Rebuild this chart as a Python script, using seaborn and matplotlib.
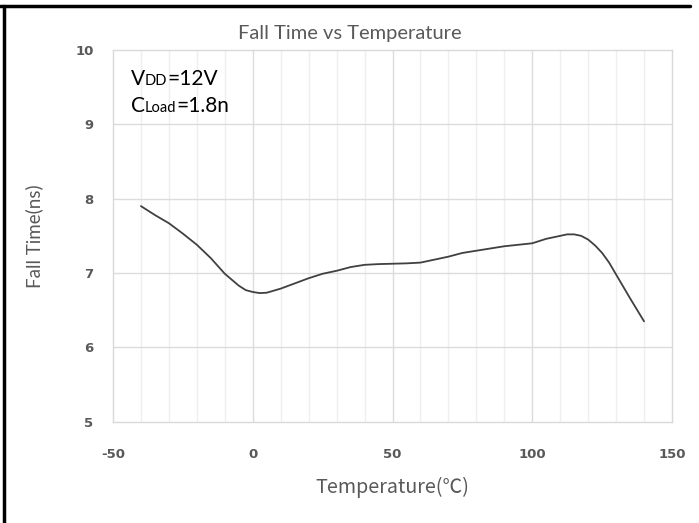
import matplotlib
matplotlib.use("Agg")
import matplotlib.pyplot as plt
import seaborn as sns
import pandas as pd
from matplotlib.lines import Line2D

# Fall time measured across the temperature range
temperature_c = [-40, -35, -30, -25, -20, -15, -10, -5, -2.5, 0, 2.5, 5, 10, 15, 20,
                 25, 30, 35, 40, 45, 50, 55, 60, 65, 70, 75, 80, 85, 90, 95, 100,
                 105, 110, 112.5, 115, 117.5, 120, 122.5, 125, 127.5, 130, 132.5,
                 135, 140]
fall_time_ns = [7.90, 7.78, 7.67, 7.53, 7.38, 7.20, 6.99, 6.83, 6.77, 6.745, 6.73,
                6.735, 6.79, 6.86, 6.93, 6.99, 7.03, 7.08, 7.11, 7.12, 7.125, 7.13,
                7.14, 7.18, 7.22, 7.27, 7.30, 7.33, 7.36, 7.38, 7.40, 7.46, 7.50,
                7.52, 7.52, 7.50, 7.45, 7.37, 7.27, 7.14, 6.98, 6.82, 6.66, 6.35]

x_ticks = [-50, 0, 50, 100, 150]
y_ticks = [5, 6, 7, 8, 9, 10]

df = pd.DataFrame({"Temperature": temperature_c, "FallTime": fall_time_ns})

sns.set_theme(style="white")
plt.rcParams["font.family"] = ["Lato", "Noto Sans CJK SC", "DejaVu Sans"]
plt.rcParams["axes.unicode_minus"] = False

TEXT = "#595959"
fig = plt.figure(figsize=(6.99, 5.23), dpi=100)
ax = fig.add_axes([113 / 699, 1 - 421.7 / 523, (672 - 113) / 699, (421.7 - 50) / 523])

# Light grid: every 10 degrees (minor) and every volt step, darker at the major ticks
for xv in range(-40, 150, 10):
    major = xv % 50 == 0
    ax.axvline(xv, color="#dcdcdc" if major else "#efefef", lw=1.0, zorder=0)
for yv in y_ticks[1:-1]:
    ax.axhline(yv, color="#dcdcdc", lw=1.0, zorder=0)

sns.lineplot(data=df, x="Temperature", y="FallTime", ax=ax, color="#404040",
             linewidth=1.3, zorder=3)

ax.set_xlim(-50, 150)
ax.set_ylim(5, 10)
ax.set_xticks(x_ticks)
ax.set_yticks(y_ticks)
for s in ax.spines.values():
    s.set_color("#d9d9d9")
    s.set_linewidth(1.0)
ax.tick_params(axis="both", length=0, labelcolor=TEXT)
ax.tick_params(axis="x", pad=19)
ax.tick_params(axis="y", pad=14)
for lab in ax.get_xticklabels() + ax.get_yticklabels():
    lab.set_family("DejaVu Sans")
    lab.set_fontweight("bold")
    lab.set_fontsize(9.5)

ax.set_xlabel("Temperature(℃)", fontsize=14.2, color=TEXT, labelpad=11,
              family=["Noto Sans CJK SC", "DejaVu Sans"])
ax.set_ylabel("Fall Time(ns)", fontsize=13.5, color=TEXT, labelpad=23)
fig.text(0.5, 1 - 34 / 523, "Fall Time vs Temperature", ha="center", va="center",
         fontsize=14.5, color=TEXT)

# Condition labels with small-caps style subscripts
def rich_text(x, y, parts):
    fig.canvas.draw()
    renderer = fig.canvas.get_renderer()
    cur = x
    for txt, size in parts:
        t = fig.text(cur, y, txt, fontsize=size, color="black", ha="left",
                     va="baseline", transform=None)
        cur = t.get_window_extent(renderer).x1

H = 523
rich_text(131, H - 85, [("V", 15), ("DD", 10.5), ("=12V", 15)])
rich_text(131, H - 112, [("C", 15), ("Load", 10.5), ("=1.8n", 15)])

# Page frame lines along the top and left edges
fig.add_artist(Line2D([0, 690 / 699], [1 - 5.5 / 523] * 2, transform=fig.transFigure,
                      color="black", lw=2.5))
fig.add_artist(Line2D([3.5 / 699] * 2, [0, 1 - 5.5 / 523], transform=fig.transFigure,
                      color="black", lw=2.5))

fig.savefig("out.png", dpi=100)
